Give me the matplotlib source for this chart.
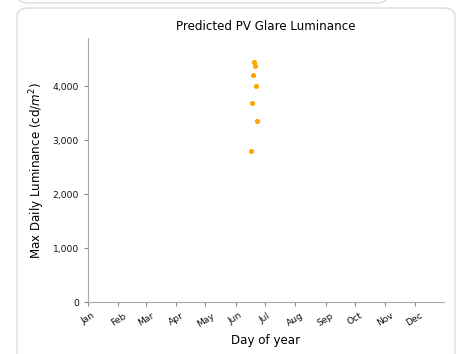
import matplotlib
matplotlib.use('Agg')
import matplotlib.pyplot as plt
from matplotlib.patches import FancyBboxPatch

# ── Datos ──────────────────────────────────────────────────────────────────────
DAYS      = [168, 169, 170, 171, 172, 173, 174]
LUMINANCE = [2800, 3690, 4210, 4450, 4370, 4000, 3350]
MONTH_DAY = [1, 32, 60, 91, 121, 152, 182, 213, 244, 274, 305, 335]
MONTHS    = ["Jan", "Feb", "Mar", "Apr", "May", "Jun",
             "Jul", "Aug", "Sep", "Oct", "Nov", "Dec"]

plt.rcParams.update({
    'font.family': 'DejaVu Sans',
    'axes.spines.top': False,
    'axes.spines.right': False,
})

fig = plt.figure(figsize=(4.61, 3.54), dpi=100)

# Tarjetas de fondo (estilo UI)
card_top = FancyBboxPatch((17 / 461, 1.0 - 3 / 354), (388 - 17) / 461, 0.3,
                          boxstyle="round,pad=0,rounding_size=0.025",
                          transform=fig.transFigure, facecolor='white',
                          edgecolor='#dddddd', linewidth=1.0, zorder=-5)
card = FancyBboxPatch((17 / 461, -0.1), (455 - 17) / 461, 0.1 + 1.0 - 8 / 354,
                      boxstyle="round,pad=0,rounding_size=0.025",
                      transform=fig.transFigure, facecolor='white',
                      edgecolor='#dddddd', linewidth=1.0, zorder=-5)
fig.patches.extend([card_top, card])

ax = fig.add_axes([88 / 461, 1 - 302 / 354, (444 - 88) / 461, (302 - 38) / 354])
ax.patch.set_alpha(0)

ax.scatter(DAYS, LUMINANCE, s=7, color='#FFA500', zorder=3)

ax.set_xlim(1, 365)
ax.set_ylim(0, max(LUMINANCE) * 1.1)
ax.set_xticks(MONTH_DAY)
ax.set_xticklabels(MONTHS, rotation=32, fontsize=6.6)
ax.set_yticks([0, 1000, 2000, 3000, 4000])
ax.set_yticklabels([f"{v:,}" for v in [0, 1000, 2000, 3000, 4000]], fontsize=6.6)

for s in ['left', 'bottom']:
    ax.spines[s].set_color('#aaaaaa')
ax.tick_params(colors='#111111', length=3, width=0.8)
ax.tick_params(axis='both', color='#888888')

ax.set_xlabel("Day of year", fontsize=8.6)
ax.set_ylabel("Max Daily Luminance (cd/$m^2$)", fontsize=8.6)
ax.set_title("Predicted PV Glare Luminance", fontsize=8.6)

fig.savefig("out.png", dpi=100)
